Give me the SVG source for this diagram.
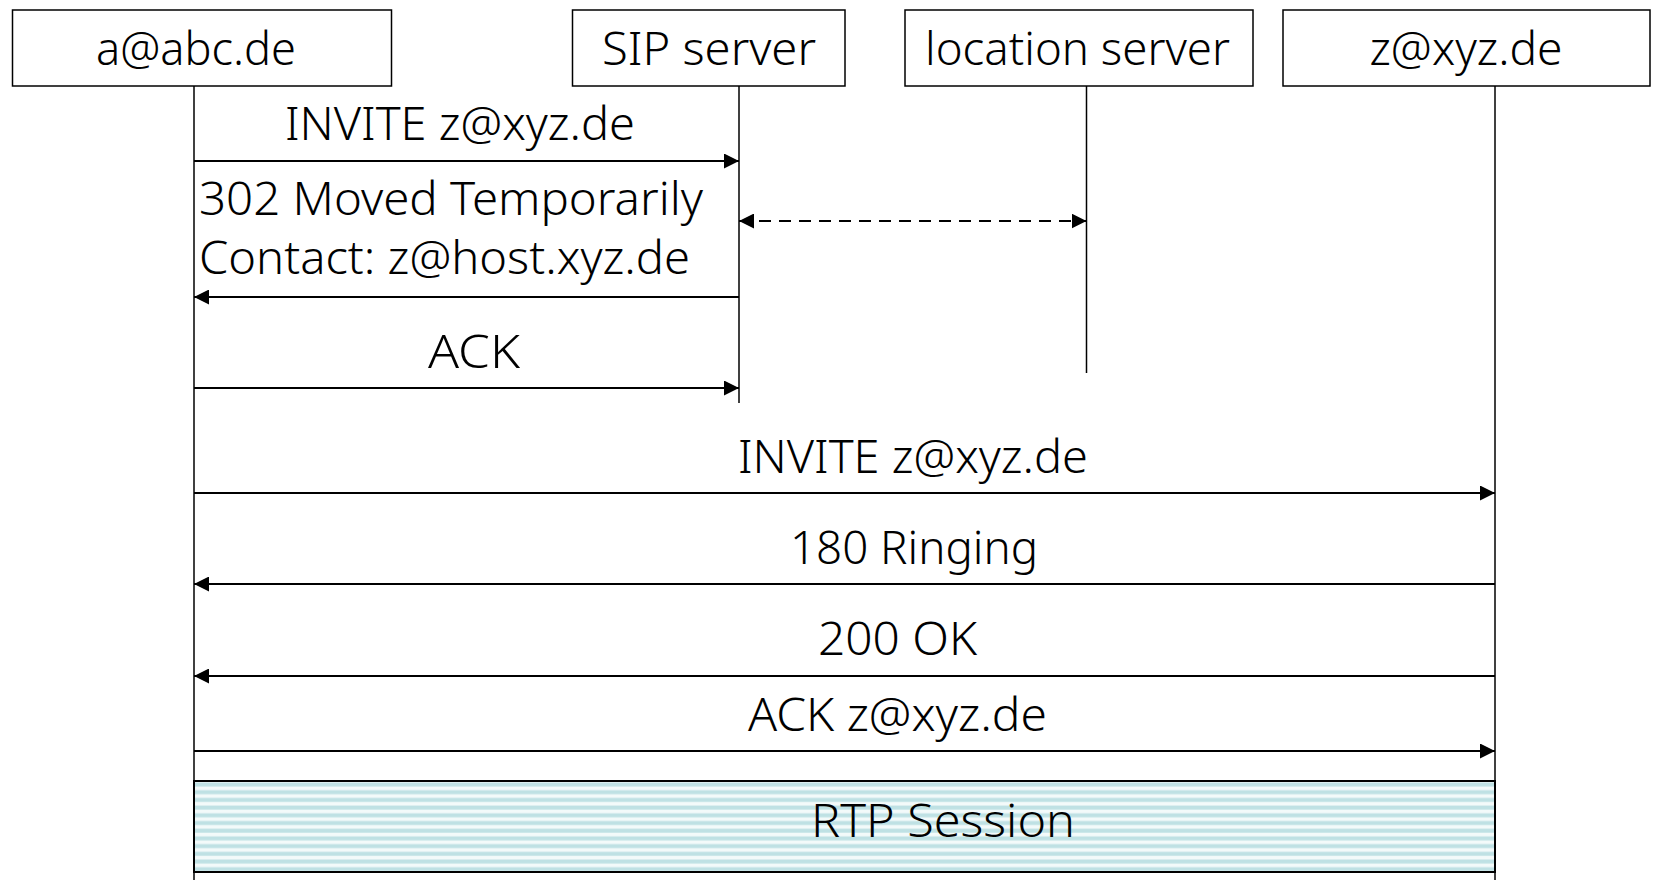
<svg xmlns="http://www.w3.org/2000/svg" width="1653" height="880" viewBox="0 0 1653 880">
  <style>
    .box { fill: #ffffff; stroke: #000000; stroke-width: 1.5; }
    .life { stroke: #000000; stroke-width: 1.5; fill: none; }
    .msg { stroke: #000000; stroke-width: 2; fill: none; marker-end: url(#arrow); }
    .dash { stroke: #000000; stroke-width: 2; fill: none; stroke-dasharray: 12 8; marker-start: url(#arrowStart); marker-end: url(#arrow); }
    text { font-family: "Noto Sans", "Liberation Sans", sans-serif; font-weight: 300; font-size: 45.5px; fill: #000000; }
    .c { text-anchor: middle; }
  </style>
  <defs>
    <marker id="arrow" viewBox="0 0 15 15" refX="15" refY="7.5" markerWidth="15" markerHeight="15" markerUnits="userSpaceOnUse" orient="auto">
      <path d="M0,0 L15,7.5 L0,15 Z" fill="#000000"/>
    </marker>
    <marker id="arrowStart" viewBox="0 0 15 15" refX="15" refY="7.5" markerWidth="15" markerHeight="15" markerUnits="userSpaceOnUse" orient="auto-start-reverse">
      <path d="M0,0 L15,7.5 L0,15 Z" fill="#000000"/>
    </marker>
    <pattern id="stripes" x="0" y="781" width="20" height="7.7" patternUnits="userSpaceOnUse">
      <rect x="0" y="0" width="20" height="7.7" fill="#f3fafa"/>
      <rect x="0" y="1.5" width="20" height="4" fill="#bfe1e4"/>
    </pattern>
  </defs>

  <!-- participants -->
  <g id="node-a">
    <rect class="box" x="12.5" y="10" width="379" height="76"/>
    <text class="c" x="196" y="65" textLength="200" lengthAdjust="spacingAndGlyphs">a@abc.de</text>
  </g>
  <g id="node-sip">
    <rect class="box" x="572.5" y="10" width="272.5" height="76"/>
    <text class="c" x="709" y="65" textLength="214" lengthAdjust="spacingAndGlyphs">SIP server</text>
  </g>
  <g id="node-location">
    <rect class="box" x="905" y="10" width="348" height="76"/>
    <text class="c" x="1077.5" y="65" textLength="305" lengthAdjust="spacingAndGlyphs">location server</text>
  </g>
  <g id="node-z">
    <rect class="box" x="1283" y="10" width="367" height="76"/>
    <text class="c" x="1466" y="65" textLength="193" lengthAdjust="spacingAndGlyphs">z@xyz.de</text>
  </g>

  <!-- lifelines -->
  <g id="lifelines">
    <line class="life" x1="194" y1="86" x2="194" y2="880"/>
    <line class="life" x1="739" y1="86" x2="739" y2="403"/>
    <line class="life" x1="1086.5" y1="86" x2="1086.5" y2="373"/>
    <line class="life" x1="1495" y1="86" x2="1495" y2="880"/>
  </g>

  <!-- RTP session band -->
  <g id="node-rtp">
    <rect x="194" y="781" width="1301" height="91" fill="url(#stripes)" stroke="#000000" stroke-width="2"/>
    <text class="c" x="943" y="837" textLength="264" lengthAdjust="spacingAndGlyphs">RTP Session</text>
  </g>

  <!-- messages -->
  <g id="connectors">
    <line class="msg" x1="194" y1="161" x2="739" y2="161"/>
    <line class="msg" x1="739" y1="297" x2="194" y2="297"/>
    <line class="dash" x1="739" y1="221" x2="1086.5" y2="221"/>
    <line class="msg" x1="194" y1="388" x2="739" y2="388"/>
    <line class="msg" x1="194" y1="493" x2="1495" y2="493"/>
    <line class="msg" x1="1495" y1="584" x2="194" y2="584"/>
    <line class="msg" x1="1495" y1="676" x2="194" y2="676"/>
    <line class="msg" x1="194" y1="751" x2="1495" y2="751"/>
  </g>

  <g id="labels">
    <text class="c" x="460" y="140" textLength="350" lengthAdjust="spacingAndGlyphs">INVITE z@xyz.de</text>
    <text x="199" y="215" textLength="504" lengthAdjust="spacingAndGlyphs">302 Moved Temporarily</text>
    <text x="199" y="274" textLength="491" lengthAdjust="spacingAndGlyphs">Contact: z@host.xyz.de</text>
    <text class="c" x="474" y="368" textLength="92" lengthAdjust="spacingAndGlyphs">ACK</text>
    <text class="c" x="913" y="473" textLength="350" lengthAdjust="spacingAndGlyphs">INVITE z@xyz.de</text>
    <text class="c" x="914" y="564" textLength="248" lengthAdjust="spacingAndGlyphs">180 Ringing</text>
    <text class="c" x="897.5" y="655" textLength="159" lengthAdjust="spacingAndGlyphs">200 OK</text>
    <text class="c" x="897.5" y="731" textLength="299" lengthAdjust="spacingAndGlyphs">ACK z@xyz.de</text>
  </g>
</svg>
